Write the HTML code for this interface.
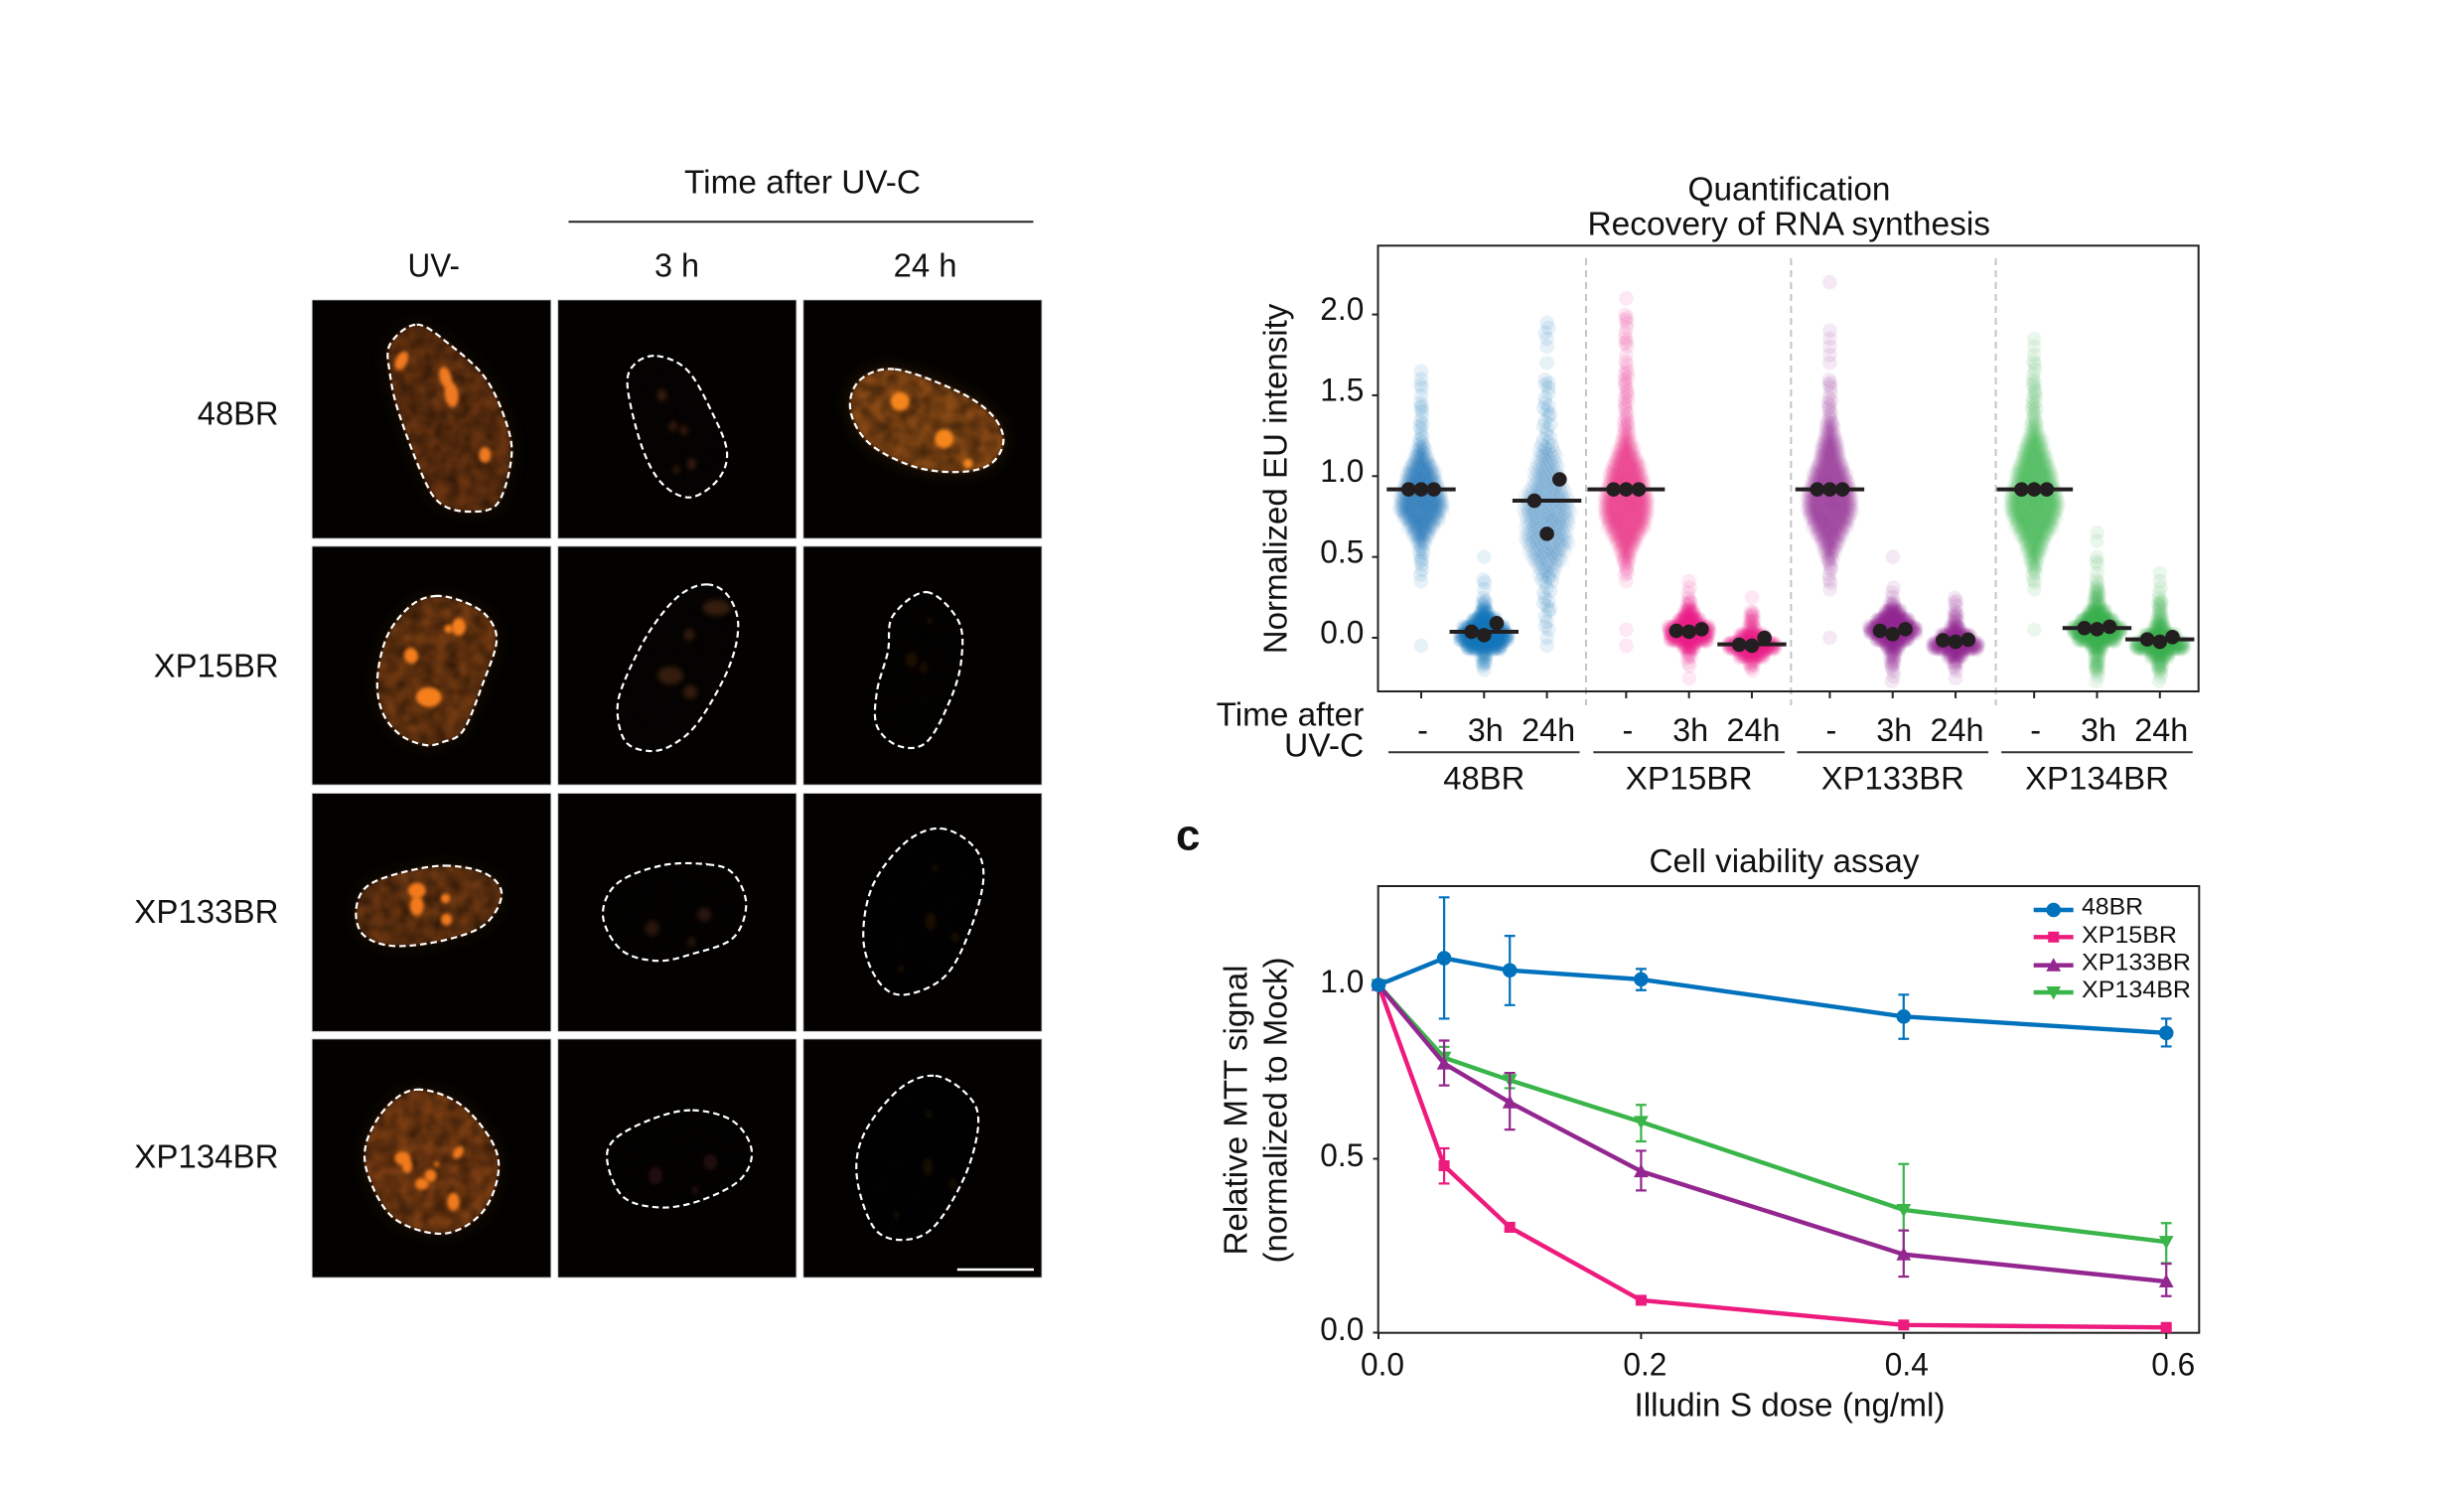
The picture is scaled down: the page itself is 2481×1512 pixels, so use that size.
<!DOCTYPE html>
<html lang="en">
<head>
<meta charset="utf-8">
<title>Recovery of RNA synthesis figure</title>
<style>
html,body{margin:0;padding:0;background:#fff;}
svg{display:block;}
text{font-family:"Liberation Sans",Arial,sans-serif;fill:#111;}
</style>
</head>
<body>
<svg id="fig" xmlns="http://www.w3.org/2000/svg" width="2481" height="1512" viewBox="0 0 2481 1512">
  <defs>
    <filter id="soft" x="-40%" y="-40%" width="180%" height="180%"><feGaussianBlur stdDeviation="1.8"/></filter>
    <filter id="softer" x="-60%" y="-60%" width="220%" height="220%"><feGaussianBlur stdDeviation="2.6"/></filter>
    <filter id="halo" x="-30%" y="-30%" width="160%" height="160%"><feGaussianBlur stdDeviation="9"/></filter>
    <filter id="mottle" x="-5%" y="-5%" width="110%" height="110%" color-interpolation-filters="sRGB">
      <feTurbulence type="fractalNoise" baseFrequency="0.08" numOctaves="2" seed="4" result="n"/>
      <feColorMatrix in="n" type="matrix" values="0 0 0 0 0  0 0 0 0 0  0 0 0 0 0  0.95 0 0 0 -0.27" result="a"/>
      <feComposite in="a" in2="SourceAlpha" operator="in" result="dark"/>
      <feMerge result="m"><feMergeNode in="SourceGraphic"/><feMergeNode in="dark"/></feMerge>
      <feGaussianBlur in="m" stdDeviation="1.6"/>
    </filter>
  </defs>

  <g id="micro"></g>

  <text x="689" y="194.3" font-size="33" textLength="238" lengthAdjust="spacingAndGlyphs">Time after UV-C</text>
  <line x1="572.5" x2="1040.5" y1="223.3" y2="223.3" stroke="#222" stroke-width="2"/>
  <text x="410.5" y="278.3" font-size="33" textLength="52.5" lengthAdjust="spacingAndGlyphs">UV-</text>
  <text x="659" y="278.3" font-size="33" textLength="45" lengthAdjust="spacingAndGlyphs">3 h</text>
  <text x="899.6" y="278.3" font-size="33" textLength="64" lengthAdjust="spacingAndGlyphs">24 h</text>
  <text x="198.8" y="427.3" font-size="33" textLength="81.7" lengthAdjust="spacingAndGlyphs">48BR</text>
  <text x="154.8" y="681.7" font-size="33" textLength="125.7" lengthAdjust="spacingAndGlyphs">XP15BR</text>
  <text x="135.3" y="929" font-size="33" textLength="145.2" lengthAdjust="spacingAndGlyphs">XP133BR</text>
  <text x="135.3" y="1175.7" font-size="33" textLength="145.2" lengthAdjust="spacingAndGlyphs">XP134BR</text>

  <text x="1699.5" y="201.7" font-size="33" textLength="204" lengthAdjust="spacingAndGlyphs">Quantification</text>
  <text x="1598.5" y="236.7" font-size="33" textLength="405.5" lengthAdjust="spacingAndGlyphs">Recovery of RNA synthesis</text>
  <text transform="translate(1295.7,658.3) rotate(-90)" font-size="33" textLength="352.6" lengthAdjust="spacingAndGlyphs">Normalized EU intensity</text>
  <text x="1224.6" y="730.7" font-size="33" textLength="148.7" lengthAdjust="spacingAndGlyphs">Time after</text>
  <text x="1293" y="761.7" font-size="33" textLength="80.3" lengthAdjust="spacingAndGlyphs">UV-C</text>
  <g id="swarmPlot"></g>

  <text x="1184" y="855.4" font-size="44" font-weight="bold">c</text>
  <text x="1660.5" y="878" font-size="33" textLength="272" lengthAdjust="spacingAndGlyphs">Cell viability assay</text>
  <text x="1645.5" y="1425.5" font-size="33" textLength="313" lengthAdjust="spacingAndGlyphs">Illudin S dose (ng/ml)</text>
  <text transform="translate(1255.7,1263.5) rotate(-90)" font-size="33" textLength="292" lengthAdjust="spacingAndGlyphs">Relative MTT signal</text>
  <text transform="translate(1295.7,1271.5) rotate(-90)" font-size="33" textLength="308" lengthAdjust="spacingAndGlyphs">(normalized to Mock)</text>
  <g id="linePlot"></g>
</svg>

<script>
/* ---------- Swarm chart data (cell counts per intensity bin) ---------- */
const swarmLevels = [2.20,2.15,2.10,2.05,2.00, 1.95,1.90,1.85,1.80,1.75, 1.70,1.65,1.60,1.55,1.50, 1.45,1.40,1.35,1.30,1.25, 1.20,1.15,1.10,1.05,1.00, 0.95,0.90,0.85,0.80,0.75, 0.70,0.65,0.60,0.55,0.50, 0.45,0.40,0.35,0.30,0.25, 0.20,0.15,0.10,0.05,0.00, -0.05,-0.10,-0.15,-0.20,-0.25, -0.30];
const counts48brMock = [0,0,0,0,0, 0,0,0,0,0, 0,1,1,2,1, 2,2,2,3,3, 4,7,11,16,20, 23,26,29,30,25, 18,12,7,4,2, 2,2,1,0,0, 0,0,0,0,0, 1,0,0,0,0, 0];
const counts48br3h = [0,0,0,0,0, 0,0,0,0,0, 0,0,0,0,0, 0,0,0,0,0, 0,0,0,0,0, 0,0,0,0,0, 0,0,0,0,1, 0,0,2,1,2, 3,6,16,28,33, 24,4,3,1,0, 0];
const counts48br24h = [0,0,0,0,0, 1,2,1,1,0, 1,0,2,2,2, 2,3,2,3,3, 4,5,6,7,8, 9,11,13,14,13, 13,12,13,11,9, 7,5,4,3,2, 3,2,1,2,1, 1,0,0,0,0, 0];
const countsXp15Mock = [0,0,1,0,2, 2,2,2,2,1, 2,3,3,3,3, 3,3,4,4,6, 8,12,16,20,23, 25,27,30,30,29, 26,20,15,10,6, 4,3,1,0,0, 0,0,0,1,0, 1,0,0,0,0, 0];
const countsXp153h = [0,0,0,0,0, 0,0,0,0,0, 0,0,0,0,0, 0,0,0,0,0, 0,0,0,0,0, 0,0,0,0,0, 0,0,0,0,0, 0,0,1,2,2, 3,7,15,28,26, 8,3,2,0,1, 0];
const countsXp1524h = [0,0,0,0,0, 0,0,0,0,0, 0,0,0,0,0, 0,0,0,0,0, 0,0,0,0,0, 0,0,0,0,0, 0,0,0,0,0, 0,0,0,0,1, 0,3,3,5,17, 32,17,4,2,0, 0];
const countsXp133Mock = [1,0,0,0,0, 0,1,1,1,1, 1,0,2,2,2, 3,3,4,6,8, 11,13,15,19,23, 26,29,31,31,28, 24,18,13,9,5, 3,2,2,1,0, 0,0,0,0,1, 0,0,0,0,0, 0];
const countsXp1333h = [0,0,0,0,0, 0,0,0,0,0, 0,0,0,0,0, 0,0,0,0,0, 0,0,0,0,0, 0,0,0,0,0, 0,0,0,0,1, 0,0,0,2,1, 4,11,22,32,22, 9,4,3,2,2, 0];
const countsXp13324h = [0,0,0,0,0, 0,0,0,0,0, 0,0,0,0,0, 0,0,0,0,0, 0,0,0,0,0, 0,0,0,0,0, 0,0,0,0,0, 0,0,0,0,2, 2,3,3,7,20, 31,10,3,2,1, 0];
const countsXp134Mock = [0,0,0,0,0, 0,0,1,1,1, 2,2,2,3,3, 3,4,4,5,8, 12,15,18,22,25, 27,30,33,33,30, 26,20,15,11,7, 5,3,2,1,0, 0,0,0,1,0, 0,0,0,0,0, 0];
const countsXp1343h = [0,0,0,0,0, 0,0,0,0,0, 0,0,0,0,0, 0,0,0,0,0, 0,0,0,0,0, 0,0,0,0,0, 0,1,1,0,1, 2,1,2,3,4, 5,12,22,33,26, 8,4,3,3,2, 0];
const countsXp13424h = [0,0,0,0,0, 0,0,0,0,0, 0,0,0,0,0, 0,0,0,0,0, 0,0,0,0,0, 0,0,0,0,0, 0,0,0,0,0, 0,1,1,2,2, 3,3,5,8,21, 33,12,4,3,2, 0];

const swarmMedians = [0.918,0.037,0.848, 0.918,null,-0.041, 0.918,null,null, 0.918,0.060,-0.010];
const rep48brMock = [0.918,0.918,0.918];
const rep48br3h = [0.037,0.016,0.090];
const rep48br24h = [0.848,0.643,0.980];
const repXp15Mock = [0.918,0.918,0.918];
const repXp153h = [0.043,0.037,0.053];
const repXp1524h = [-0.043,-0.049,0.000];
const repXp133Mock = [0.918,0.918,0.918];
const repXp1333h = [0.043,0.022,0.053];
const repXp13324h = [-0.016,-0.025,-0.012];
const repXp134Mock = [0.918,0.918,0.918];
const repXp1343h = [0.060,0.053,0.068];
const repXp13424h = [-0.010,-0.025,0.004];

const swarmGroups = ['48BR','XP15BR','XP133BR','XP134BR'];
const swarmConditions = ['-','3h','24h'];
const swarmYTicks = [0,0.5,1,1.5,2];

/* ---------- Line chart data ---------- */
const doses = [0,0.05,0.1,0.2,0.4,0.6];
const mtt48br = [1,1.077,1.042,1.016,0.909,0.862];
const mtt48brUpper = [1,1.252,1.141,1.046,0.972,0.903];
const mtt48brLower = [1,0.903,0.942,0.985,0.845,0.823];
const mttXp15 = [1,0.480,0.303,0.093,0.022,0.015];
const mttXp15Upper = [1,0.530,0.315,0.103,0.027,0.020];
const mttXp15Lower = [1,0.429,0.291,0.083,0.017,0.010];
const mttXp133 = [1,0.774,0.662,0.464,0.225,0.147];
const mttXp133Upper = [1,0.840,0.747,0.523,0.294,0.198];
const mttXp133Lower = [1,0.711,0.584,0.409,0.161,0.105];
const mttXp134 = [1,0.791,0.726,0.606,0.353,0.261];
const mttXp134Upper = [1,0.822,0.747,0.655,0.485,0.315];
const mttXp134Lower = [1,0.762,0.703,0.550,0.220,0.200];
const lineXTicks = [0,0.2,0.4,0.6];
const lineYTicks = [0,0.5,1];

const NS = 'http://www.w3.org/2000/svg';
function mk(parent, tag, attrs){
  const el = document.createElementNS(NS, tag);
  for (const k in attrs) el.setAttribute(k, attrs[k]);
  parent.appendChild(el);
  return el;
}
function txt(parent, str, x, y, size, anchor, len, name){
  const el = mk(parent, 'text', {x:x, y:y, 'font-size':size, 'text-anchor':anchor});
  if (len) { el.setAttribute('textLength', len); el.setAttribute('lengthAdjust', 'spacingAndGlyphs'); }
  el.textContent = str;
  
  
  return el;
}
function smooth(p){
  const n = p.length;
  let d = 'M' + p[0][0] + ' ' + p[0][1];
  for (let i = 0; i < n; i++){
    const a = p[(i-1+n)%n], b = p[i], c = p[(i+1)%n], e = p[(i+2)%n];
    d += 'C' + (b[0]+(c[0]-a[0])/6).toFixed(1) + ' ' + (b[1]+(c[1]-a[1])/6).toFixed(1) + ' ' +
         (c[0]-(e[0]-b[0])/6).toFixed(1) + ' ' + (c[1]-(e[1]-b[1])/6).toFixed(1) + ' ' + c[0].toFixed(1) + ' ' + c[1].toFixed(1);
  }
  return d + 'Z';
}

/* ---------- Microscopy panels ---------- */
const colX = [[314.3,554.7],[561.8,801.8],[808.9,1048.9]];
const rowY = [[302,542],[550,790],[798.6,1038.3],[1046,1286]];
const rowNames = ['48br','xp15br','xp133br','xp134br'];
const colNames = ['uv-minus','3h','24h'];
const nuclei = [
 [{fill:'#693410',spot:'#f07a22',halo:.22,out:[[420.8,326.7],[454,346.7],[490,380],[510.8,423],[517,460],[503,506.7],[474.8,515],[446.5,508],[428.5,483],[402.8,416.7],[393.6,376.7],[393.6,346.7]],spots:[[405.4,363,6,10,25],[450,380,6,11,-15],[456,397,7,13,-8],[490,458,6,8,0]]},
  {fill:'#060403',spot:'#3e1f0a',out:[[665,358.3],[696,373],[721.6,416.7],[736,455],[726.7,483],[698.5,500.7],[670,486.7],[649.6,450],[635,390],[642,366.7]],spots:[[670,398,4.5,6,0],[681.5,429,4,5,0],[692,433,3.5,5,0],[700,467,4,6,0],[684.6,472.7,3,4,0]]},
  {fill:'#8a4a15',spot:'#f6861f',halo:.3,out:[[906.7,371.7],[968.4,393],[1004.4,416.7],[1017,443],[1004.4,466.7],[973.5,475],[927,470],[881,446.7],[861.5,413],[870.7,383]],spots:[[911.8,404,9.5,9.5,0],[956.6,441.7,9.5,9.5,0],[981,466.7,5,5,0]]}],
 [{fill:'#723a11',spot:'#f67f1f',halo:.2,out:[[438.3,600],[466.7,605.7],[490,620],[500,645],[486.7,686.7],[466.7,735],[446.7,746.7],[428.3,750],[403.3,740],[385,716.7],[380,683],[390,640],[413.3,610]],spots:[[462,631,7,9,0],[451.7,633,4.5,4.5,0],[414,660,7,8,-15],[431.7,701.7,13,10,0]]},
  {fill:'#060403',spot:'#361b08',out:[[711.7,588.3],[733.3,600],[743.3,630],[733.3,673.3],[703.3,726.7],[676.7,750],[653.3,756],[630,746.7],[621.7,716.7],[628.3,686.7],[653.3,636.7],[683.3,600]],spots:[[721.7,611.7,14,8,0],[694,639,5,6,0],[675,680,13,9,0],[695,696.7,7,7,0]]},
  {fill:'#040302',spot:'#1a0e05',out:[[933,596],[965,625],[968,664],[957,704],[933,747],[905,751],[883,731],[883,696],[894,656],[899,620]],spots:[[936,625,3,4,0],[918,664,6,8,0],[930,672,4,6,0]]}],
 [{fill:'#6c3711',spot:'#f47a1f',halo:.2,out:[[449,872.3],[490,880],[507,901],[490,932],[449,948],[397.7,954],[366.8,943],[359,918.5],[369.4,894],[402.8,880]],spots:[[420.8,897.6,9,8,0],[420.8,913,7,10,0],[450,905.6,5,5,0],[451,927,5.5,6,0]]},
  {fill:'#040302',spot:'#2a1407',out:[[716.5,871],[742,880],[755.5,911.5],[742,946],[701,962],[665,969],[629,958.4],[610,923.7],[624,890.7],[670,872]],spots:[[713,922,7,7,0],[660,936,7,8,0],[700,950,4,5,0]]},
  {fill:'#030202',spot:'#1a0e05',out:[[953,834.4],[986.4,852.5],[996.7,883.8],[983.8,935.8],[958,984.4],[917,1003.5],[891,991.4],[874.8,949.7],[883.5,894],[917,849]],spots:[[947,875,3,4,0],[943,929,5,9,0],[968,945,4,5,0],[913,977.5,3,4,0]]}],
 [{fill:'#7a3d12',spot:'#f27b1e',halo:.22,out:[[420.8,1100],[464.5,1114.7],[498,1154.6],[503,1189],[485,1227.5],[446.5,1246.6],[397.7,1231],[372,1189],[369.4,1154.6],[390,1118]],spots:[[406.4,1170,8,7,0],[411,1178,5,7,0],[463,1164,4.5,7,35],[434.7,1187.6,6,6.5,0],[426,1196,7,6,0],[441,1176,2.5,2.5,0],[458,1214,6,9,0]]},
  {fill:'#040302',spot:'#241107',out:[[701,1121],[742,1132],[761,1161.5],[750,1191],[711.3,1212],[670,1220],[631.6,1210],[614.7,1175.4],[621.3,1151],[660,1130]],spots:[[719,1173.7,7,8,0],[663.5,1187.6,7,9,0],[703.6,1202.5,3,5,0]]},
  {fill:'#030202',spot:'#180d05',out:[[947.8,1086],[981,1106],[991.5,1133.8],[978.7,1185.8],[947.8,1238],[917,1252.8],[886,1241.4],[868,1189],[875.8,1144],[911.8,1099]],spots:[[941,1125,3,5,0],[940,1179,5,9,0],[965.8,1196,4,6,0],[908,1228,3,5,0]]}]
];
const micro = document.getElementById('micro');
nuclei.forEach(function(row, r){
  const fx = function(x){ return r===1 ? x : 300+(x-300)*0.9908; };
  const fy = function(y){ return r<2 ? y : 790+(y-790)*0.9897; };
  row.forEach(function(cell, c){
    const base = rowNames[r] + '-' + colNames[c];
    const g = mk(micro, 'g', {});
    
    
    const bg = mk(g, 'rect', {x:colX[c][0], y:rowY[r][0], width:colX[c][1]-colX[c][0], height:rowY[r][1]-rowY[r][0], fill:'#030201', stroke:'#b5b5b5', 'stroke-width':0.8});
    
    
    const d = smooth(cell.out.map(function(p){ return [fx(p[0]), fy(p[1])]; }));
    if (cell.halo) {
      const h = mk(g, 'path', {d:d, fill:cell.fill, opacity:cell.halo, filter:'url(#halo)'});
      
      
    }
    const body = mk(g, 'path', {d:d, fill:cell.fill, filter:'url(#mottle)'});
    
    
    cell.spots.forEach(function(s){
      const sx = fx(s[0]), sy = fy(s[1]);
      const sp = mk(g, 'ellipse', {cx:sx, cy:sy, rx:s[2], ry:s[3], fill:cell.spot, filter:c===0||(r===0&&c===2)?'url(#soft)':'url(#softer)', transform:'rotate('+s[4]+' '+sx+' '+sy+')'});
      
      
    });
    const o = mk(g, 'path', {d:d, fill:'none', stroke:'#fff', 'stroke-width':2.2, 'stroke-dasharray':'6.5 4'});
    
    
  });
});
const scale = mk(micro, 'line', {x1:963.8, x2:1041, y1:1278, y2:1278, stroke:'#fff', 'stroke-width':2.6});



/* ---------- Swarm chart ---------- */
(function(){
  const root = document.getElementById('swarmPlot');
  const swarmX = function(p){ return 1431 + 63.3*p; };
  const swarmY = function(v){ return 642 - 162.7*v; };
  const groupPos = [0, 3.26, 6.5, 9.75];
  const dividers = [2.622, 5.883, 9.14];
  const colors = ['#0f75bc','#ec2186','#92278f','#39b54a'];
  const allCounts = [counts48brMock,counts48br3h,counts48br24h,countsXp15Mock,countsXp153h,countsXp1524h,countsXp133Mock,countsXp1333h,countsXp13324h,countsXp134Mock,countsXp1343h,countsXp13424h];
  const allReps = [rep48brMock,rep48br3h,rep48br24h,repXp15Mock,repXp153h,repXp1524h,repXp133Mock,repXp1333h,repXp13324h,repXp134Mock,repXp1343h,repXp13424h];

  swarmYTicks.forEach(function(v){
    const t = mk(root, 'line', {x1:1381.5, x2:1387.5, y1:swarmY(v), y2:swarmY(v), stroke:'#222', 'stroke-width':2});
    
    
    txt(root, v.toFixed(1), 1373.3, swarmY(v)+5.6, 32, 'end', 44, 'eu-y-tick-label');
  });

  allCounts.forEach(function(cnt, s){
    const gi = Math.floor(s/3), ci = s%3;
    const pos = groupPos[gi] + ci;
    const cx = swarmX(pos);
    const sg = mk(root, 'g', {fill:colors[gi]});
    
    
    const spacing = s===2 ? 3.5 : 1.5;
    const compact = ci>0 && s!==2;
    cnt.forEach(function(n, i){
      /* dense bins are drawn with finer dots so the body stays smooth */
      let mult = 1, alpha = 0.1;
      if (compact) { mult = n>=6 ? 3 : (n>=3 ? 2 : 1); }
      else if (n>=5) { mult = 2; alpha = 0.054; }
      const total = n*mult;
      const sp = spacing/mult;
      for (let k = 0; k < total; k++){
        const dx = (k-(total-1)/2)*sp;
        const f = (k*0.618034 + i*0.37) % 1;
        const shift = total>1 ? (f-0.5)*0.05 : 0;
        const c = mk(sg, 'circle', {cx:(cx+dx).toFixed(1), cy:swarmY(swarmLevels[i]+shift).toFixed(1), r:7.3, 'fill-opacity':alpha});
        
        
      }
    });
  });
  allCounts.forEach(function(cnt, s){
    const gi = Math.floor(s/3), ci = s%3;
    const cx = swarmX(groupPos[gi]+ci);
    if (swarmMedians[s] !== null) {
      const half = (s===3||s===9) ? 39 : 34.7;
      const m = mk(root, 'line', {x1:cx-half, x2:cx+half, y1:swarmY(swarmMedians[s]), y2:swarmY(swarmMedians[s]), stroke:'#231f20', 'stroke-width':4});
      
      
    }
    allReps[s].forEach(function(v, k){
      const c = mk(root, 'circle', {cx:cx+(k-1)*12.7, cy:swarmY(v), r:7.3, fill:'#231f20'});
      
      
    });
  });

  dividers.forEach(function(p){
    const d = mk(root, 'line', {x1:swarmX(p), x2:swarmX(p), y1:260, y2:710, stroke:'#c4c4c4', 'stroke-width':2, 'stroke-dasharray':'7 5'});
    
    
  });

  const frame = mk(root, 'rect', {x:1387.5, y:247.3, width:826.2, height:448.7, fill:'none', stroke:'#222', 'stroke-width':2});
  
  

  const lens = [82,128,144,145];
  const condLens = [null,36,54];
  swarmGroups.forEach(function(name, gi){
    swarmConditions.forEach(function(lbl, ci){
      const x = swarmX(groupPos[gi]+ci);
      const t = mk(root, 'line', {x1:x, x2:x, y1:696, y2:703, stroke:'#222', 'stroke-width':2});
      
      
      txt(root, lbl, x+1.5, 746, 32.5, 'middle', condLens[ci], 'condition-label');
    });
    const x0 = swarmX(groupPos[gi]), x2 = swarmX(groupPos[gi]+2);
    const u = mk(root, 'line', {x1:x0-33, x2:x2+33, y1:757.3, y2:757.3, stroke:'#333', 'stroke-width':2});
    
    
    txt(root, name, (x0+x2)/2, 794.3, 32.5, 'middle', lens[gi], 'group-label');
  });
})();

/* ---------- Line chart ---------- */
(function(){
  const root = document.getElementById('linePlot');
  const lx = function(v){ return 1388 + 1322*v; };
  const ly = function(v){ return 1341.5 - 350*v; };
  const xLabelShift = [4,4,3,7];
  const frame = mk(root, 'rect', {x:1387.7, y:892, width:826.6, height:449.7, fill:'none', stroke:'#222', 'stroke-width':2});
  
  

  lineYTicks.forEach(function(v){
    const t = mk(root, 'line', {x1:1382.5, x2:1387.7, y1:ly(v), y2:ly(v), stroke:'#222', 'stroke-width':2});
    
    
    txt(root, v.toFixed(1), 1373.3, ly(v)+7.5, 32, 'end', 44, 'viability-y-tick-label');
  });
  lineXTicks.forEach(function(v, i){
    const t = mk(root, 'line', {x1:lx(v), x2:lx(v), y1:1341.7, y2:1348, stroke:'#222', 'stroke-width':2});
    
    
    txt(root, v.toFixed(1), lx(v)+xLabelShift[i], 1384.5, 32, 'middle', 44, 'viability-x-tick-label');
  });

  function marker(g, kind, x, y, color){
    let el;
    if (kind === 'circle') el = mk(g, 'circle', {cx:x, cy:y, r:7.3, fill:color});
    else if (kind === 'square') el = mk(g, 'rect', {x:x-5.5, y:y-5.5, width:11, height:11, fill:color});
    else if (kind === 'up') el = mk(g, 'path', {d:'M'+x+' '+(y-7.5)+'L'+(x+7.4)+' '+(y+6)+'L'+(x-7.4)+' '+(y+6)+'Z', fill:color});
    else el = mk(g, 'path', {d:'M'+x+' '+(y+7.5)+'L'+(x+7.4)+' '+(y-6)+'L'+(x-7.4)+' '+(y-6)+'Z', fill:color});
    
    
  }
  function drawSeries(name, vals, up, lo, color, kind){
    const g = mk(root, 'g', {});
    
    
    doses.forEach(function(d, i){
      if (up[i] === lo[i]) return;
      const x = lx(d);
      const e = mk(g, 'path', {d:'M'+x+' '+ly(up[i])+'V'+ly(lo[i])+'M'+(x-5.4)+' '+ly(up[i])+'H'+(x+5.4)+'M'+(x-5.4)+' '+ly(lo[i])+'H'+(x+5.4), fill:'none', stroke:color, 'stroke-width':2.2});
      
      
    });
    const pts = doses.map(function(d, i){ return lx(d)+','+ly(vals[i]); }).join(' ');
    const l = mk(g, 'polyline', {points:pts, fill:'none', stroke:color, 'stroke-width':4.4, 'stroke-linejoin':'round'});
    
    
    doses.forEach(function(d, i){ marker(g, kind, lx(d), ly(vals[i]), color); });
  }
  drawSeries('xp134br', mttXp134, mttXp134Upper, mttXp134Lower, '#39b54a', 'down');
  drawSeries('xp15br', mttXp15, mttXp15Upper, mttXp15Lower, '#ee1b7e', 'square');
  drawSeries('xp133br', mttXp133, mttXp133Upper, mttXp133Lower, '#93278f', 'up');
  drawSeries('48br', mtt48br, mtt48brUpper, mtt48brLower, '#0071bc', 'circle');

  const legendNames = ['48BR','XP15BR','XP133BR','XP134BR'];
  const legendColors = ['#0071bc','#ee1b7e','#93278f','#39b54a'];
  const legendKinds = ['circle','square','up','down'];
  const legendY = [916,943.3,971.7,999];
  const legendBase = [920.7,949,976.7,1004];
  const legendLen = [62,96,110,110];
  legendNames.forEach(function(n, i){
    const g = mk(root, 'g', {});
    
    
    const l = mk(g, 'line', {x1:2047.7, x2:2087.7, y1:legendY[i], y2:legendY[i], stroke:legendColors[i], 'stroke-width':4.4});
    
    
    marker(g, legendKinds[i], 2067.7, legendY[i], legendColors[i]);
    txt(g, n, 2096, legendBase[i], 24, 'start', legendLen[i], 'legend-label');
  });
})();
</script>
</body>
</html>
